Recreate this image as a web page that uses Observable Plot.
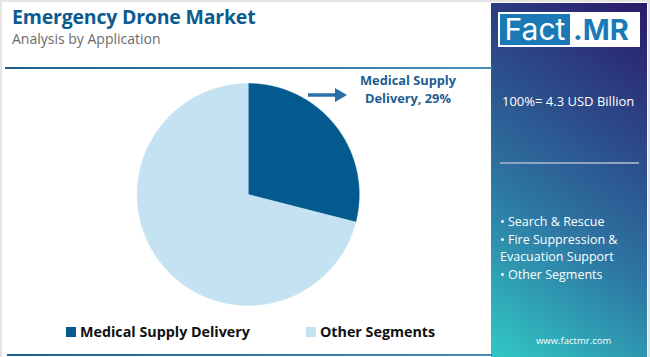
<!DOCTYPE html>
<html><head><meta charset="utf-8">
<script src="https://cdn.jsdelivr.net/npm/d3@7"></script>
<script src="https://cdn.jsdelivr.net/npm/@observablehq/plot@0.6"></script>
<style>
html,body{margin:0;padding:0;background:#fff;}
#wrap{position:relative;width:650px;height:357px;overflow:hidden;font-family:"Open Sans",sans-serif;}
#frame{position:absolute;left:0;top:0;width:650px;height:357px;box-sizing:border-box;border:2px solid #e4e4e4;border-bottom:none;}
.abs{position:absolute;white-space:nowrap;}
#title{left:12px;top:3px;font-size:19.5px;font-weight:700;color:#0b5b8e;letter-spacing:-0.2px;}
#sub{left:12px;top:29px;font-size:14px;color:#6b6b6b;}
#topline{left:5px;top:67px;width:487px;height:2px;background:linear-gradient(to right,#1d5f90,#4a8cba);}
#botline{left:7px;top:354px;width:485px;height:2px;background:linear-gradient(to right,#1d5f90,#4a8cba);}
#panel{left:491px;top:3px;width:156px;height:354px;background:linear-gradient(35deg,#31c8c5 0%,#2d77a3 38%,#2c4888 68%,#2a1a68 100%);}
#logo{left:498px;top:12px;width:142px;height:35px;background:#fff;}
#fact{left:500px;top:14px;width:70px;height:31px;background:#1b7ab6;color:#fff;font-size:30px;line-height:31px;text-align:center;font-family:"Inter",sans-serif;}
#mr{left:573px;top:14px;width:66px;height:31px;color:#1b7ab6;font-size:29px;line-height:31px;font-weight:700;font-family:"Inter",sans-serif;}
#total{left:502px;top:92px;font-size:13px;color:#fff;}
#pline{left:500px;top:162px;width:139px;height:1.5px;background:#8ea3c6;}
.bul{font-size:12.5px;color:#fff;}
#web{left:536px;top:334px;font-size:9.5px;color:#fff;}
#lab{left:360px;top:71px;font-size:12.8px;font-weight:700;color:#1d5d92;text-align:center;line-height:18px;}
#legend{left:66px;top:322px;font-size:14.3px;font-weight:700;color:#111;}
.sw{display:inline-block;width:10px;height:10px;margin-right:4px;}
#plot{left:0;top:74px;}
</style></head>
<body><div id="wrap">
<div id="frame"></div>
<div class="abs" id="panel"></div>
<div class="abs" id="title">Emergency Drone Market</div>
<div class="abs" id="sub">Analysis by Application</div>
<div class="abs" id="topline"></div>
<div class="abs" id="botline"></div>
<div class="abs" id="logo"></div>
<div class="abs" id="fact">Fact</div>
<div class="abs" id="mr">.MR</div>
<div class="abs" id="total"></div>
<div class="abs" id="pline"></div>
<div class="abs" id="bullets" style="left:500px;top:0px"></div>
<div class="abs" id="web">www.factmr.com</div>
<div class="abs" id="lab"></div>
<svg class="abs" style="left:304px;top:85px" width="45" height="20"><line x1="4" y1="10" x2="33" y2="10" stroke="#2a6ea8" stroke-width="3.5"/><path d="M31,3 L43,10 L31,17 Z" fill="#2a6ea8"/></svg>
<div class="abs" id="legend"></div>
<div class="abs" id="plot"></div>
</div>
<script>
const categories = ["Medical Supply Delivery", "Other Segments"];
const shares = [29, 71];
const colors = ["#035a8e", "#c5e2f2"];
const totalLabel = "100%= 4.3 USD Billion";
const bulletLines = ["• Search & Rescue", "• Fire Suppression &", "Evacuation Support", "• Other Segments"];

document.getElementById("total").textContent = totalLabel;
document.getElementById("lab").innerHTML = "Medical Supply<br>Delivery, " + shares[0] + "%";
const bl = document.getElementById("bullets");
bulletLines.forEach((t, i) => {
  const d = document.createElement("div");
  d.className = "abs bul"; d.style.top = (213 + i * 17.6) + "px"; d.style.left = "0px";
  d.textContent = t; bl.appendChild(d);
});

const leg = document.getElementById("legend");
leg.innerHTML = categories.map((c, i) =>
  `<span style="margin-right:${i === 0 ? 56 : 0}px"><span class="sw" style="background:${colors[i]}"></span>${c}</span>`).join("");

const arcs = d3.pie().sort(null).value(d => d.v)(categories.map((c, i) => ({c, v: shares[i]})));
const pts = [];
arcs.forEach(a => {
  pts.push({c: a.data.c, x: 0, y: 0});
  const n = Math.max(2, Math.ceil((a.endAngle - a.startAngle) / 0.005));
  for (let k = 0; k <= n; k++) {
    const t = a.startAngle + (a.endAngle - a.startAngle) * k / n;
    pts.push({c: a.data.c, x: Math.sin(t), y: Math.cos(t)});
  }
  pts.push({c: a.data.c, x: 0, y: 0});
});

const chart = Plot.plot({
  width: 490, height: 240,
  margin: 0,
  x: {domain: [-1, 1], range: [136.7, 358.7], axis: null},
  y: {domain: [-1, 1], range: [231, 9], axis: null},
  color: {domain: categories, range: colors},
  marks: categories.map((c, i) =>
    Plot.line(pts.filter(p => p.c === c), {x: "x", y: "y", fill: colors[i], stroke: colors[i], strokeWidth: 0.5, curve: "linear"})
  )
});
document.getElementById("plot").appendChild(chart);
</script>
</body></html>
